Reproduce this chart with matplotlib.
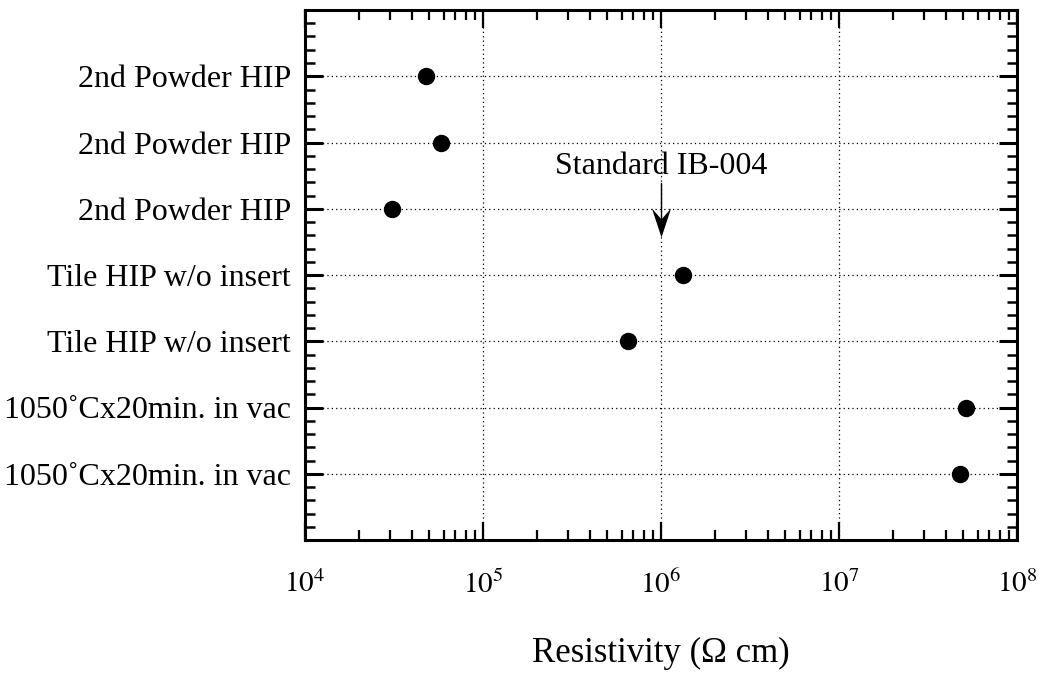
import matplotlib
matplotlib.use("Agg")
import matplotlib.pyplot as plt
from matplotlib.ticker import MultipleLocator, LogLocator, NullFormatter
from matplotlib.path import Path
import numpy as np

plt.rcParams['font.family'] = ['Liberation Serif', 'DejaVu Serif']
plt.rcParams['mathtext.fontset'] = 'stix'

categories = [
    "2nd Powder HIP",
    "2nd Powder HIP",
    "2nd Powder HIP",
    "Tile HIP w/o insert",
    "Tile HIP w/o insert",
    "1050\u02daCx20min. in vac",
    "1050\u02daCx20min. in vac",
]
resistivity = [4.8e4, 5.8e4, 3.1e4, 1.33e6, 6.5e5, 5.2e7, 4.8e7]
standard_value = 1e6
standard_label = "Standard IB-004"
xtick_values = [1e4, 1e5, 1e6, 1e7, 1e8]
xtick_labels = [r"$10^{4}$", r"$10^{5}$", r"$10^{6}$", r"$10^{7}$", r"$10^{8}$"]

fig = plt.figure(figsize=(10.47, 6.76), dpi=100)
ax = fig.add_axes([305/1047, 1-540/676, (1017-305)/1047, (540-10)/676])

n = len(categories)
ypos = np.arange(n, 0, -1)  # top row is highest

ax.plot(resistivity, ypos, 'o', color='black', markersize=11.5, zorder=5, clip_on=False)

ax.set_xscale('log')
ax.set_xlim(1e4, 1e8)
ax.set_ylim(0, n + 1)

ax.set_xticks(xtick_values)
ax.set_xticklabels(xtick_labels, fontsize=21)
ax.xaxis.set_minor_locator(LogLocator(base=10, subs=np.arange(2, 10)))
ax.xaxis.set_minor_formatter(NullFormatter())

ax.set_yticks(ypos)
ax.set_yticklabels(categories, fontsize=23)
ax.yaxis.set_minor_locator(MultipleLocator(0.2))

ax.tick_params(axis='both', which='both', direction='in', top=True, right=True, color='black')
ax.tick_params(axis='y', which='major', length=13, width=2.2, pad=10)
ax.tick_params(axis='y', which='minor', length=7, width=1.8)
ax.tick_params(axis='x', which='major', length=13, width=1.6, pad=22)
ax.tick_params(axis='x', which='minor', length=7, width=1.6)

for s in ax.spines.values():
    s.set_linewidth(2.2)

ax.grid(True, which='major', axis='both', linestyle=(0, (1, 2.5)), color='black', linewidth=0.9)
ax.set_axisbelow(True)

# Arrow: thin stem and barbed head pointing down at the standard value
tip_y = 4.58
ax.plot([standard_value, standard_value], [5.39, tip_y + 0.25], color='black', lw=1.0, zorder=4)
head = Path([(0, 0), (-0.33, 1.0), (0, 0.62), (0.33, 1.0), (0, 0)],
            [Path.MOVETO, Path.LINETO, Path.LINETO, Path.LINETO, Path.CLOSEPOLY])
ax.plot([standard_value], [tip_y], marker=head, markersize=42, color='black',
        markeredgewidth=0, linestyle='none', zorder=4)
ax.text(standard_value, 5.42, standard_label, ha='center', va='bottom', fontsize=23)

ax.set_xlabel("Resistivity (\u03a9 cm)", fontsize=25, labelpad=27)

fig.savefig("out.png", dpi=100)
